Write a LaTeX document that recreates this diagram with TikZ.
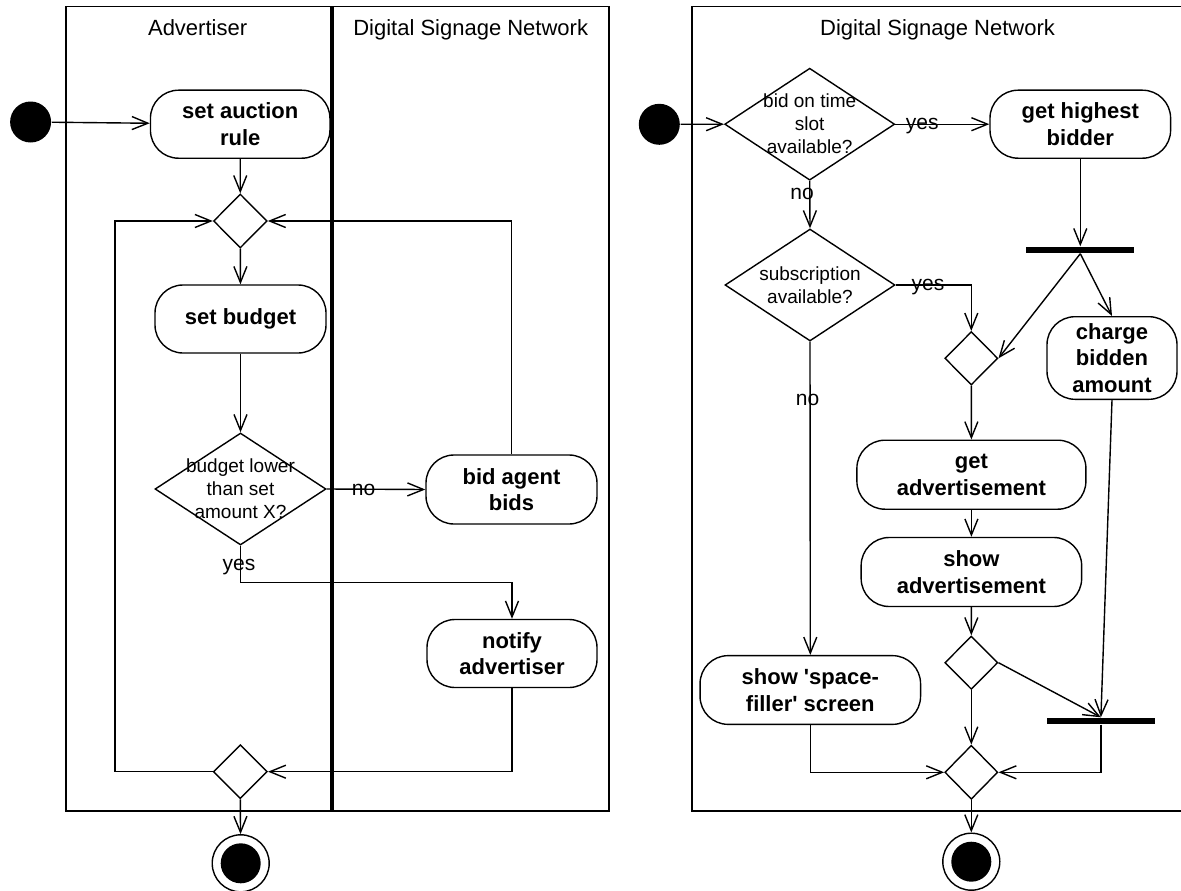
\documentclass[tikz,border=0pt]{standalone}
\usepackage{fontspec}
\setmainfont{Liberation Sans}
\usepackage{tikz}
\usetikzlibrary{shapes,arrows.meta,positioning}

\begin{document}
\begin{tikzpicture}[x=1pt, y=-1pt, line width=1.4pt,
    action/.style={draw, rectangle, rounded corners=28pt, align=center, inner sep=0pt, font=\fontsize{22}{26.5}\selectfont\bfseries},
    decision/.style={draw, diamond, inner sep=0pt},
    qtext/.style={align=center, inner sep=0pt, font=\fontsize{19}{23}\selectfont},
    bar/.style={fill=black, inner sep=0pt, minimum width=108pt, minimum height=6pt},
    startnode/.style={circle, fill=black, inner sep=0pt, minimum size=41pt},
    endnode/.style={circle, draw, inner sep=0pt, minimum size=57pt, path picture={\fill (path picture bounding box.center) circle (20pt);}},
    flow/.style={-{Straight Barb[length=16pt,width=13pt]}},
    guard/.style={inner sep=0pt, anchor=base, font=\fontsize{21}{25}\selectfont},
    lanetitle/.style={inner sep=0pt, anchor=base, font=\fontsize{22}{26}\selectfont}]
    \useasboundingbox (0,0) rectangle (1181,891);

    % swimlanes
    \draw (65.8,6.7) rectangle (331,811);
    \draw (333,6.7) rectangle (609,811);
    \draw (692,6.7) rectangle (1195,811);
    \node[lanetitle] (advlane) at (197.6,36) {Advertiser};
    \node[lanetitle] (dsnlane) at (470.7,36) {Digital Signage Network};
    \node[lanetitle] (dsnpool) at (937.5,36) {Digital Signage Network};

    % auction side
    \node[startnode] (start1) at (30.6,122) {};
    \node[action, minimum width=179.5pt, minimum height=68pt] (rule) at (240.2,124.2) {set auction\\rule};
    \node[decision, minimum width=53.6pt, minimum height=54pt] (loopmerge) at (240.3,221) {};
    \node[action, minimum width=171pt, minimum height=68pt] (budget) at (240.5,319) {set budget};
    \node[decision, minimum width=171pt, minimum height=112pt,
          label={[qtext]center:{budget lower\\than set\\amount X?}}] (budgetq) at (240.5,489) {};
    \node[action, minimum width=171pt, minimum height=69pt] (bidagent) at (511.5,489.5) {bid agent\\bids};
    \node[action, minimum width=170pt, minimum height=68pt] (notify) at (512,653.5) {notify\\advertiser};
    \node[decision, minimum width=54pt, minimum height=54pt] (endmerge) at (240.3,771.7) {};
    \node[endnode] (final1) at (240.7,863.3) {};

    \node[guard] (nobid) at (363.5,495.5) {no};
    \node[guard] (yesnotify) at (239,570.5) {yes};

    \draw[flow] (start1) -- (rule);
    \draw[flow] (rule) -- (loopmerge);
    \draw[flow] (loopmerge) -- (budget);
    \draw[flow] (budget) -- (budgetq);
    \draw[flow] (budgetq.east) -- (bidagent.west);
    \draw[flow] (bidagent.north) |- (loopmerge.east);
    \draw[flow] (budgetq.south) -- ++(0,36.7) -| (notify.north);
    \draw[flow] (notify.south) |- (endmerge.east);
    \draw[flow] (endmerge.west) -- ++(-97.7,0) |- (loopmerge.west);
    \draw[flow] (endmerge.south) -- (final1);

    % display side
    \node[startnode] (start2) at (659.3,124.3) {};
    \node[decision, minimum width=170pt, minimum height=112pt,
          label={[qtext]center:{bid on time\\slot\\available?}}] (bidq) at (809.7,124.2) {};
    \node[action, minimum width=180.6pt, minimum height=68pt] (bidder) at (1080.3,124.2) {get highest\\bidder};
    \node[bar] (fork1) at (1080.3,250) {};
    \node[decision, minimum width=170pt, minimum height=112pt,
          label={[qtext]center:{subscription\\available?}}] (subq) at (810,285) {};
    \node[decision, minimum width=53pt, minimum height=53.4pt] (merge1) at (971.3,358.3) {};
    \node[action, minimum width=130pt, minimum height=82.6pt] (charge) at (1112,358) {charge\\bidden\\amount};
    \node[action, minimum width=229pt, minimum height=69pt] (getad) at (971.4,474.7) {get\\advertisement};
    \node[action, minimum width=220.5pt, minimum height=69pt] (showad) at (971.4,572) {show\\advertisement};
    \node[decision, minimum width=53pt, minimum height=53.3pt] (merge2) at (971.3,662.7) {};
    \node[bar] (fork2) at (1100.9,721) {};
    \node[action, minimum width=220.5pt, minimum height=68.7pt] (filler) at (810.3,690) {show \textquotesingle space-\\filler\textquotesingle{} screen};
    \node[decision, minimum width=53pt, minimum height=54pt] (merge3) at (971.3,772.3) {};
    \node[endnode] (final2) at (971.3,861.7) {};

    \node[guard] (yesbid) at (922.3,129.5) {yes};
    \node[guard] (nobidslot) at (802,199) {no};
    \node[guard] (yessub) at (928,290.5) {yes};
    \node[guard] (nosub) at (807.5,405.5) {no};

    \draw[flow] (start2) -- (bidq.west);
    \draw[flow] (bidq.east) -- (bidder.west);
    \draw[flow] (bidq.south) -- (subq.north);
    \draw[flow] (bidder.south) -- (fork1.north);
    \draw[flow] (fork1.south) -- (merge1.east);
    \draw[flow] (fork1.south) -- (charge.north);
    \draw[flow] (subq.east) -| (merge1.north);
    \draw[flow] (subq.south) -- (filler.north);
    \draw[flow] (merge1.south) -- (getad.north);
    \draw[flow] (getad.south) -- (showad.north);
    \draw[flow] (showad.south) -- (merge2.north);
    \draw[flow] (merge2.east) -- (fork2.north);
    \draw[flow] (charge.south) -- (fork2.north);
    \draw[flow] (merge2.south) -- (merge3.north);
    \draw[flow] (fork2.south) |- (merge3.east);
    \draw[flow] (filler.south) |- (merge3.west);
    \draw[flow] (merge3.south) -- (final2);
\end{tikzpicture}
\end{document}
